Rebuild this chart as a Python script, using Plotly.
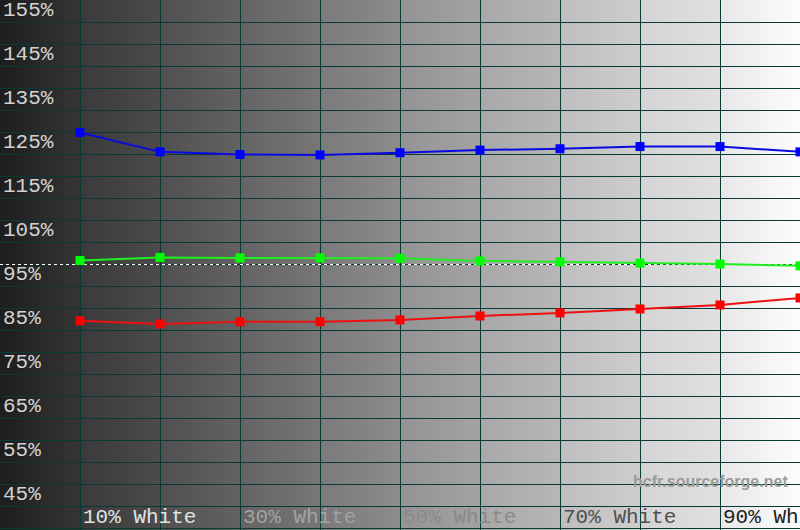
import plotly.graph_objects as go

# ---- data ----
steps = [1, 2, 3, 4, 5, 6, 7, 8, 9, 10]          # 10% .. 100% white
step_labels = ["10% White", "", "30% White", "", "50% White", "", "70% White", "", "90% White", ""]
blue = [130.0, 125.6, 125.0, 124.9, 125.4, 126.0, 126.3, 126.8, 126.8, 125.6]
green = [100.9, 101.6, 101.5, 101.5, 101.4, 100.8, 100.6, 100.3, 100.1, 99.7]
red = [87.2, 86.5, 87.0, 87.0, 87.4, 88.3, 89.0, 89.9, 90.8, 92.4]
reference = 100
y_tick_vals = list(range(45, 160, 10))
y_grid_vals = list(range(40, 161, 5))

# ---- styling ----
x_label_colors = ["#e2e2e2", "", "#a2a2a2", "", "#8a8a8a", "", "#505050", "", "#1e1e1e", ""]
band_start = [30, 58, 80, 100, 122, 148, 168, 190, 212, 232]
band_end = [52, 75, 98, 118, 140, 162, 182, 205, 224, 252]
grid_color = "#083a38"
mono = "Liberation Mono, Courier New, monospace"

# background gradient drawn as thin bands beneath the grid (decorative)
shapes = []
nsub = 20
for k in range(10):
    for i in range(nsub):
        g = int(round(band_start[k] + (band_end[k] - band_start[k]) * i / (nsub - 1)))
        shapes.append(dict(
            type="rect", xref="x", yref="paper", layer="below",
            x0=k + i / nsub, x1=k + (i + 1) / nsub + 0.002, y0=0, y1=1,
            fillcolor=f"rgb({g},{g},{g})", line=dict(width=0),
        ))

fig = go.Figure()

fig.add_trace(go.Scatter(
    x=[0, 10], y=[reference, reference], mode="lines",
    line=dict(color="white", width=1, dash="3px,3px"), hoverinfo="skip", showlegend=False,
))

for vals, col, lcol in [(blue, "#0000ff", "#0a0ae0"), (green, "#00ff00", "#20ee20"), (red, "#ff0000", "#ee1010")]:
    fig.add_trace(go.Scatter(
        x=steps, y=vals, mode="lines+markers",
        line=dict(color=lcol, width=2),
        marker=dict(symbol="square", size=9, color=col),
        showlegend=False,
    ))

annotations = []
for xv, t, c in zip(steps, step_labels, x_label_colors):
    if t:
        annotations.append(dict(
            x=xv, y=0, xref="x", yref="paper", text=t, showarrow=False,
            xanchor="left", yanchor="middle", xshift=1, yshift=13,
            font=dict(family=mono, size=21, color=c),
        ))
for v in y_tick_vals:
    annotations.append(dict(
        x=0, y=v, xref="paper", yref="y", text=f"{v}%", showarrow=False,
        xanchor="left", yanchor="middle", xshift=1, yshift=12,
        font=dict(family=mono, size=21, color="#d2d2d2"),
    ))
annotations.append(dict(
    x=9.88, y=50.6, xref="x", yref="y", text="<b>hcfr.sourceforge.net</b>",
    showarrow=False, xanchor="right", yanchor="middle",
    font=dict(family="Liberation Sans, Arial", size=16, color="#9a9a9a"),
))

fig.update_layout(
    width=800, height=530,
    margin=dict(l=0, r=0, t=0, b=0),
    paper_bgcolor="#202020", plot_bgcolor="#202020",
    showlegend=False,
    shapes=shapes,
    annotations=annotations,
    xaxis=dict(
        range=[0, 10], tickmode="array", tickvals=steps, showticklabels=False, ticks="",
        showgrid=True, gridcolor=grid_color, gridwidth=1.4, zeroline=False, showline=False,
    ),
    yaxis=dict(
        range=[39.66, 160.11], tickmode="array", tickvals=y_grid_vals, showticklabels=False, ticks="",
        showgrid=True, gridcolor=grid_color, gridwidth=1.4, zeroline=False, showline=False,
    ),
)

fig.write_html("out.html", config={"displayModeBar": False},
               post_script="document.body.style.margin='0';")
